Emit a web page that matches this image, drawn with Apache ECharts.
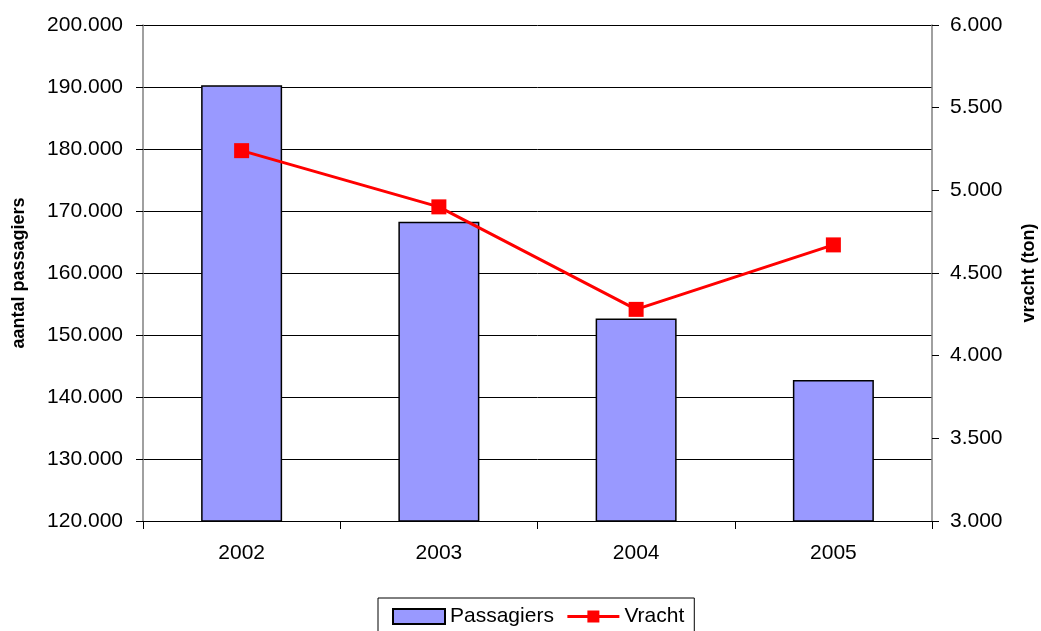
<!DOCTYPE html>
<html>
<head>
<meta charset="utf-8">
<script src="https://cdn.jsdelivr.net/npm/echarts@6/dist/echarts.min.js"></script>
<style>
  html, body { margin: 0; padding: 0; background: #fff; }
  #chart { width: 1041px; height: 631px; }
</style>
</head>
<body>
<div id="chart"></div>
<script>
// jaren
const years = ['2002', '2003', '2004', '2005']
// aantal passagiers (linker as)
const passagiers = [190300, 168250, 152650, 142750]
// vracht in ton (rechter as)
const vracht = [5240, 4900, 4280, 4670]

const fmt = v => String(v).replace(/\B(?=(\d{3})+(?!\d))/g, '.')
const font = 'Liberation Sans, Arial, sans-serif'

const myChart = echarts.init(document.getElementById('chart'))
myChart.setOption({
  animation: false,
  textStyle: {fontFamily: font},
  grid: {left: 143, right: 109, top: 25, bottom: 110, outerBoundsMode: 'none', containLabel: false},
  legend: {
    bottom: -6,
    left: 378,
    borderColor: '#000',
    borderWidth: 1,
    padding: [8, 10, 10, 14],
    itemGap: 12,
    itemWidth: 52,
    itemHeight: 15,
    textStyle: {fontSize: 21, color: '#000', fontFamily: font},
    data: [
      {name: 'Passagiers', icon: 'rect'},
      {name: 'Vracht', lineStyle: {width: 3}}
    ]
  },
  xAxis: {
    type: 'category',
    data: years,
    axisLine: {lineStyle: {color: '#000', width: 1}},
    axisTick: {show: true, length: 8, lineStyle: {color: '#000'}},
    axisLabel: {fontSize: 21, color: '#000', margin: 22}
  },
  yAxis: [
    {
      type: 'value',
      min: 120000,
      max: 200000,
      interval: 10000,
      name: 'aantal passagiers',
      nameLocation: 'middle',
      nameGap: 115,
      nameTextStyle: {fontSize: 18, fontWeight: 'bold', color: '#000'},
      axisLine: {show: true, lineStyle: {color: '#808080', width: 1.5}},
      axisTick: {show: true, length: 7, lineStyle: {color: '#000'}},
      axisLabel: {fontSize: 21, color: '#000', margin: 20, formatter: fmt},
      splitLine: {lineStyle: {color: '#000', width: 1}}
    },
    {
      type: 'value',
      min: 3000,
      max: 6000,
      interval: 500,
      name: 'vracht (ton)',
      nameLocation: 'middle',
      nameGap: 88,
      nameRotate: 90,
      nameTextStyle: {fontSize: 18, fontWeight: 'bold', color: '#000'},
      axisLine: {show: true, lineStyle: {color: '#808080', width: 1.5}},
      axisTick: {show: true, length: 7, lineStyle: {color: '#000'}},
      axisLabel: {fontSize: 21, color: '#000', margin: 18, formatter: fmt},
      splitLine: {show: false}
    }
  ],
  series: [
    {
      name: 'Passagiers',
      type: 'bar',
      data: passagiers,
      barWidth: 81,
      itemStyle: {color: '#9999FF', borderColor: '#000', borderWidth: 1.5}
    },
    {
      name: 'Vracht',
      type: 'line',
      yAxisIndex: 1,
      data: vracht,
      symbol: 'rect',
      symbolSize: 15,
      lineStyle: {color: '#FF0000', width: 3},
      itemStyle: {color: '#FF0000'}
    }
  ]
})
window.addEventListener('resize', () => myChart.resize())
</script>
</body>
</html>
